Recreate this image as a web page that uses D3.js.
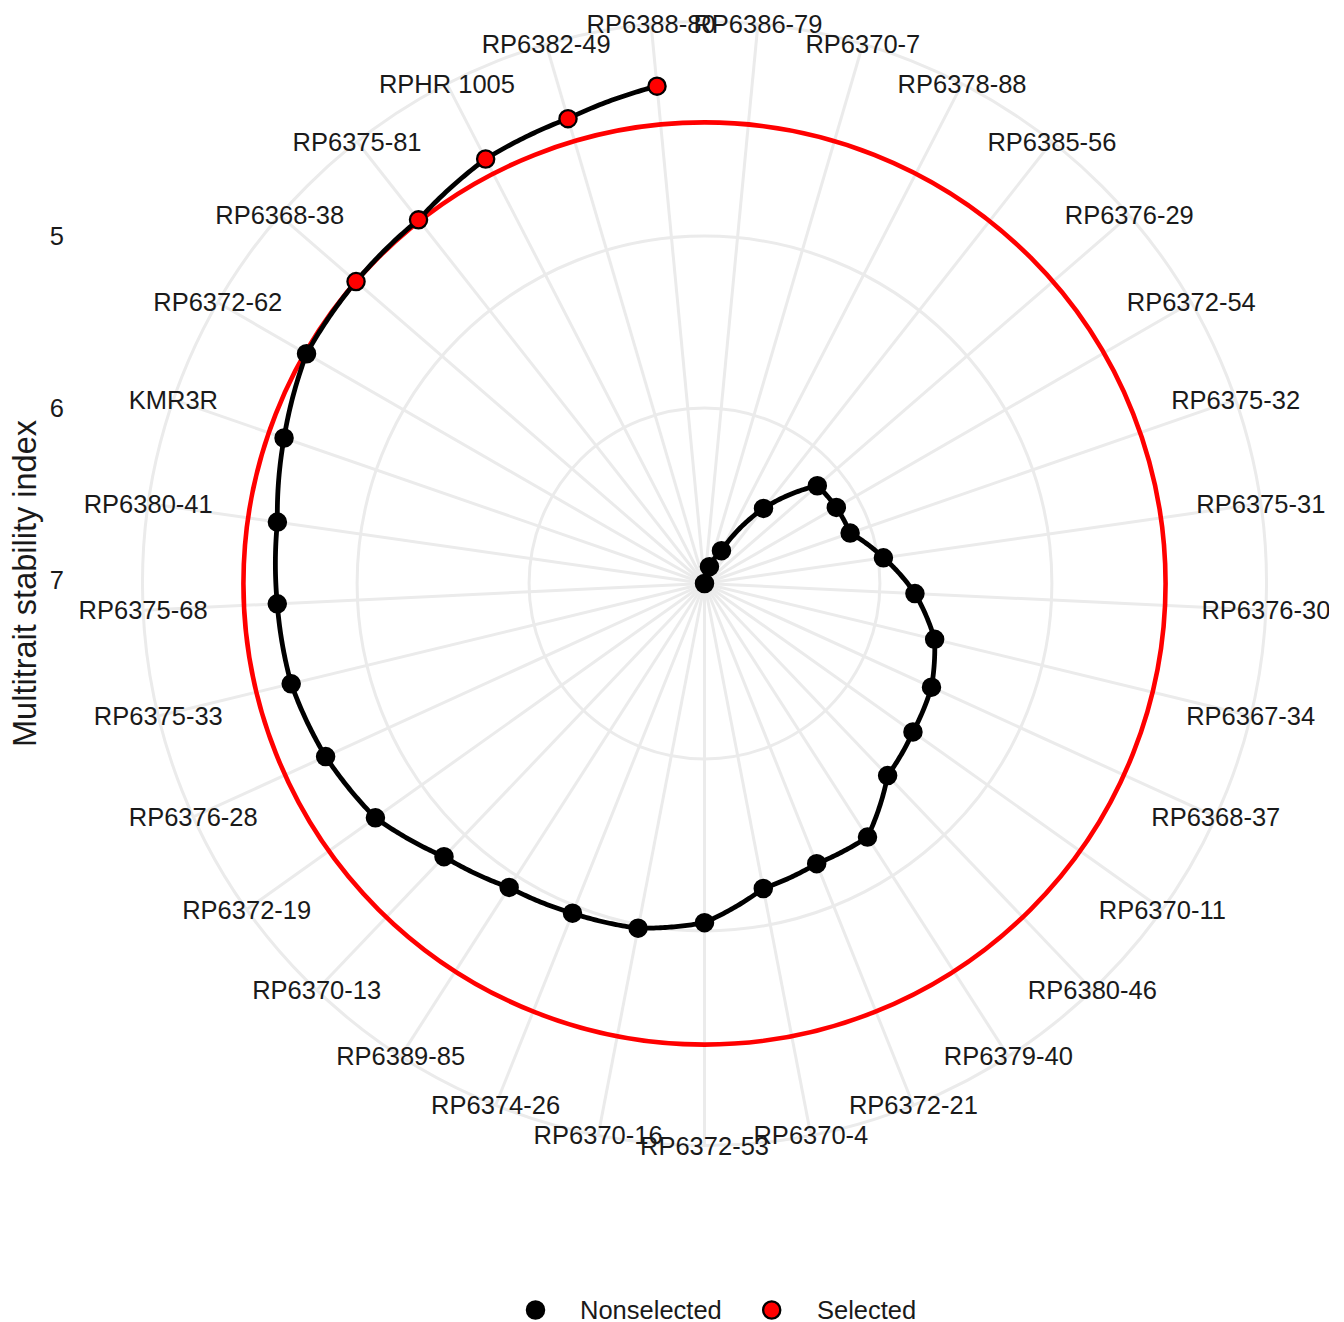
<!DOCTYPE html>
<html><head><meta charset="utf-8">
<script src="https://cdn.jsdelivr.net/npm/d3@7"></script>
<style>body{margin:0;background:#fff}svg{display:block}text{font-family:"Liberation Sans",Arial,Helvetica,sans-serif}</style>
</head><body>
<script>
// ---- data (ordered by decreasing MTSI, as in the plot) ----
const genotypes = ["RP6386-79","RP6370-7","RP6378-88","RP6385-56","RP6376-29","RP6372-54","RP6375-32","RP6375-31","RP6376-30","RP6367-34","RP6368-37","RP6370-11","RP6380-46","RP6379-40","RP6372-21","RP6370-4","RP6372-53","RP6370-16","RP6374-26","RP6389-85","RP6370-13","RP6372-19","RP6376-28","RP6375-33","RP6375-68","RP6380-41","KMR3R","RP6372-62","RP6368-38","RP6375-81","RPHR 1005","RP6382-49","RP6388-80"];
const mtsi = [7.020,6.918,6.805,6.465,6.152,6.135,6.124,5.969,5.795,5.643,5.569,5.532,5.477,5.267,5.265,5.214,5.048,4.979,4.955,4.919,4.825,4.671,4.598,4.547,4.533,4.511,4.433,4.348,4.339,4.330,4.243,4.203,4.115];
const status = ["Nonselected","Nonselected","Nonselected","Nonselected","Nonselected","Nonselected","Nonselected","Nonselected","Nonselected","Nonselected","Nonselected","Nonselected","Nonselected","Nonselected","Nonselected","Nonselected","Nonselected","Nonselected","Nonselected","Nonselected","Nonselected","Nonselected","Nonselected","Nonselected","Nonselected","Nonselected","Nonselected","Nonselected","Selected","Selected","Selected","Selected","Selected"];
const yTicks = [5, 6, 7];
const legendLabels = ["Nonselected", "Selected"];
const legendColors = ["#000000", "#FF0000"];
const yTitle = "Multitrait stability index";

// ---- layout ----
const W = 1344, H = 1322;
const cx = 704.5, cy = 583.5, unit = 1249;
const R0 = 0.4 * unit, RL = 0.45 * unit;
const fs = 25.5;

const svg = d3.select("body").append("svg").attr("width", W).attr("height", H);
svg.append("rect").attr("width", W).attr("height", H).attr("fill", "#fff");

const defs = svg.append("defs");
defs.append("clipPath").attr("id", "panel").append("rect")
  .attr("x", cx - unit / 2).attr("y", cy - unit / 2).attr("width", unit).attr("height", unit);

const theta = d3.scaleBand().domain(genotypes).range([0, 2 * Math.PI]).paddingInner(0).paddingOuter(0);
const ang = g => theta(g) + theta.bandwidth() / 2;
const r = d3.scaleLinear().domain([d3.max(mtsi), d3.min(mtsi)]).range([0, R0]);
const fill = d3.scaleOrdinal().domain(legendLabels).range(legendColors);
const px = (a, rad) => cx + rad * Math.sin(a);
const py = (a, rad) => cy - rad * Math.cos(a);

const data = genotypes.map((g, i) => ({g, v: mtsi[i], s: status[i]}));
const cut = d3.max(data.filter(d => d.s === "Selected"), d => d.v);

const panel = svg.append("g").attr("clip-path", "url(#panel)");
const grid = "#EBEBEB", gw = 3;

// spokes
panel.append("g").selectAll("line").data(genotypes).join("line")
  .attr("x1", cx).attr("y1", cy)
  .attr("x2", g => px(ang(g), RL)).attr("y2", g => py(ang(g), RL))
  .attr("stroke", grid).attr("stroke-width", gw);
// radial circles
panel.append("g").selectAll("circle").data(yTicks.map(t => r(t)).concat([RL])).join("circle")
  .attr("cx", cx).attr("cy", cy).attr("r", d => d)
  .attr("fill", "none").attr("stroke", grid).attr("stroke-width", gw);

// cut-off line (hline in polar)
panel.append("circle").attr("cx", cx).attr("cy", cy).attr("r", r(cut))
  .attr("fill", "none").attr("stroke", "#FF0000").attr("stroke-width", 4.6);

// munched path
const pts = [];
for (let i = 0; i < data.length - 1; i++) {
  const a0 = ang(data[i].g), a1 = ang(data[i + 1].g);
  const r0 = r(data[i].v), r1 = r(data[i + 1].v);
  const steps = 30;
  for (let k = 0; k < steps; k++) {
    const t = k / steps;
    const a = a0 + (a1 - a0) * t, rr = r0 + (r1 - r0) * t;
    pts.push([px(a, rr), py(a, rr)]);
  }
}
const last = data[data.length - 1];
pts.push([px(ang(last.g), r(last.v)), py(ang(last.g), r(last.v))]);
panel.append("path").attr("d", d3.line()(pts))
  .attr("fill", "none").attr("stroke", "#000").attr("stroke-width", 4.8)
  .attr("stroke-linejoin", "round").attr("stroke-linecap", "butt");

// points
panel.append("g").selectAll("circle").data(data).join("circle")
  .attr("cx", d => px(ang(d.g), r(d.v))).attr("cy", d => py(ang(d.g), r(d.v)))
  .attr("r", 8.6).attr("fill", d => fill(d.s)).attr("stroke", "#000").attr("stroke-width", 2.3);

// theta labels
panel.append("g").selectAll("text").data(genotypes).join("text")
  .attr("x", g => px(ang(g), RL)).attr("y", g => py(ang(g), RL))
  .attr("text-anchor", "middle").attr("dominant-baseline", "central")
  .attr("font-size", fs).attr("fill", "#1a1a1a").text(g => g);

// r axis labels
svg.append("g").selectAll("text").data(yTicks).join("text")
  .attr("x", 64).attr("y", t => cy - r(t))
  .attr("text-anchor", "end").attr("dominant-baseline", "central")
  .attr("font-size", fs).attr("fill", "#1a1a1a").text(t => t);

// axis title
svg.append("text").attr("transform", `translate(36,${cy}) rotate(-90)`)
  .attr("text-anchor", "middle").attr("font-size", 32.5).attr("fill", "#1a1a1a").text(yTitle);

// legend
const lg = svg.append("g");
const lx = [535.5, 771.7], tx = [580, 817], ly = 1310, lb = 1319;
legendLabels.forEach((l, i) => {
  lg.append("circle").attr("cx", lx[i]).attr("cy", ly).attr("r", 8.6)
    .attr("fill", fill(l)).attr("stroke", "#000").attr("stroke-width", 2.3);
  lg.append("text").attr("x", tx[i]).attr("y", lb)
    .attr("font-size", fs).attr("fill", "#1a1a1a").text(l);
});
</script>
</body></html>
